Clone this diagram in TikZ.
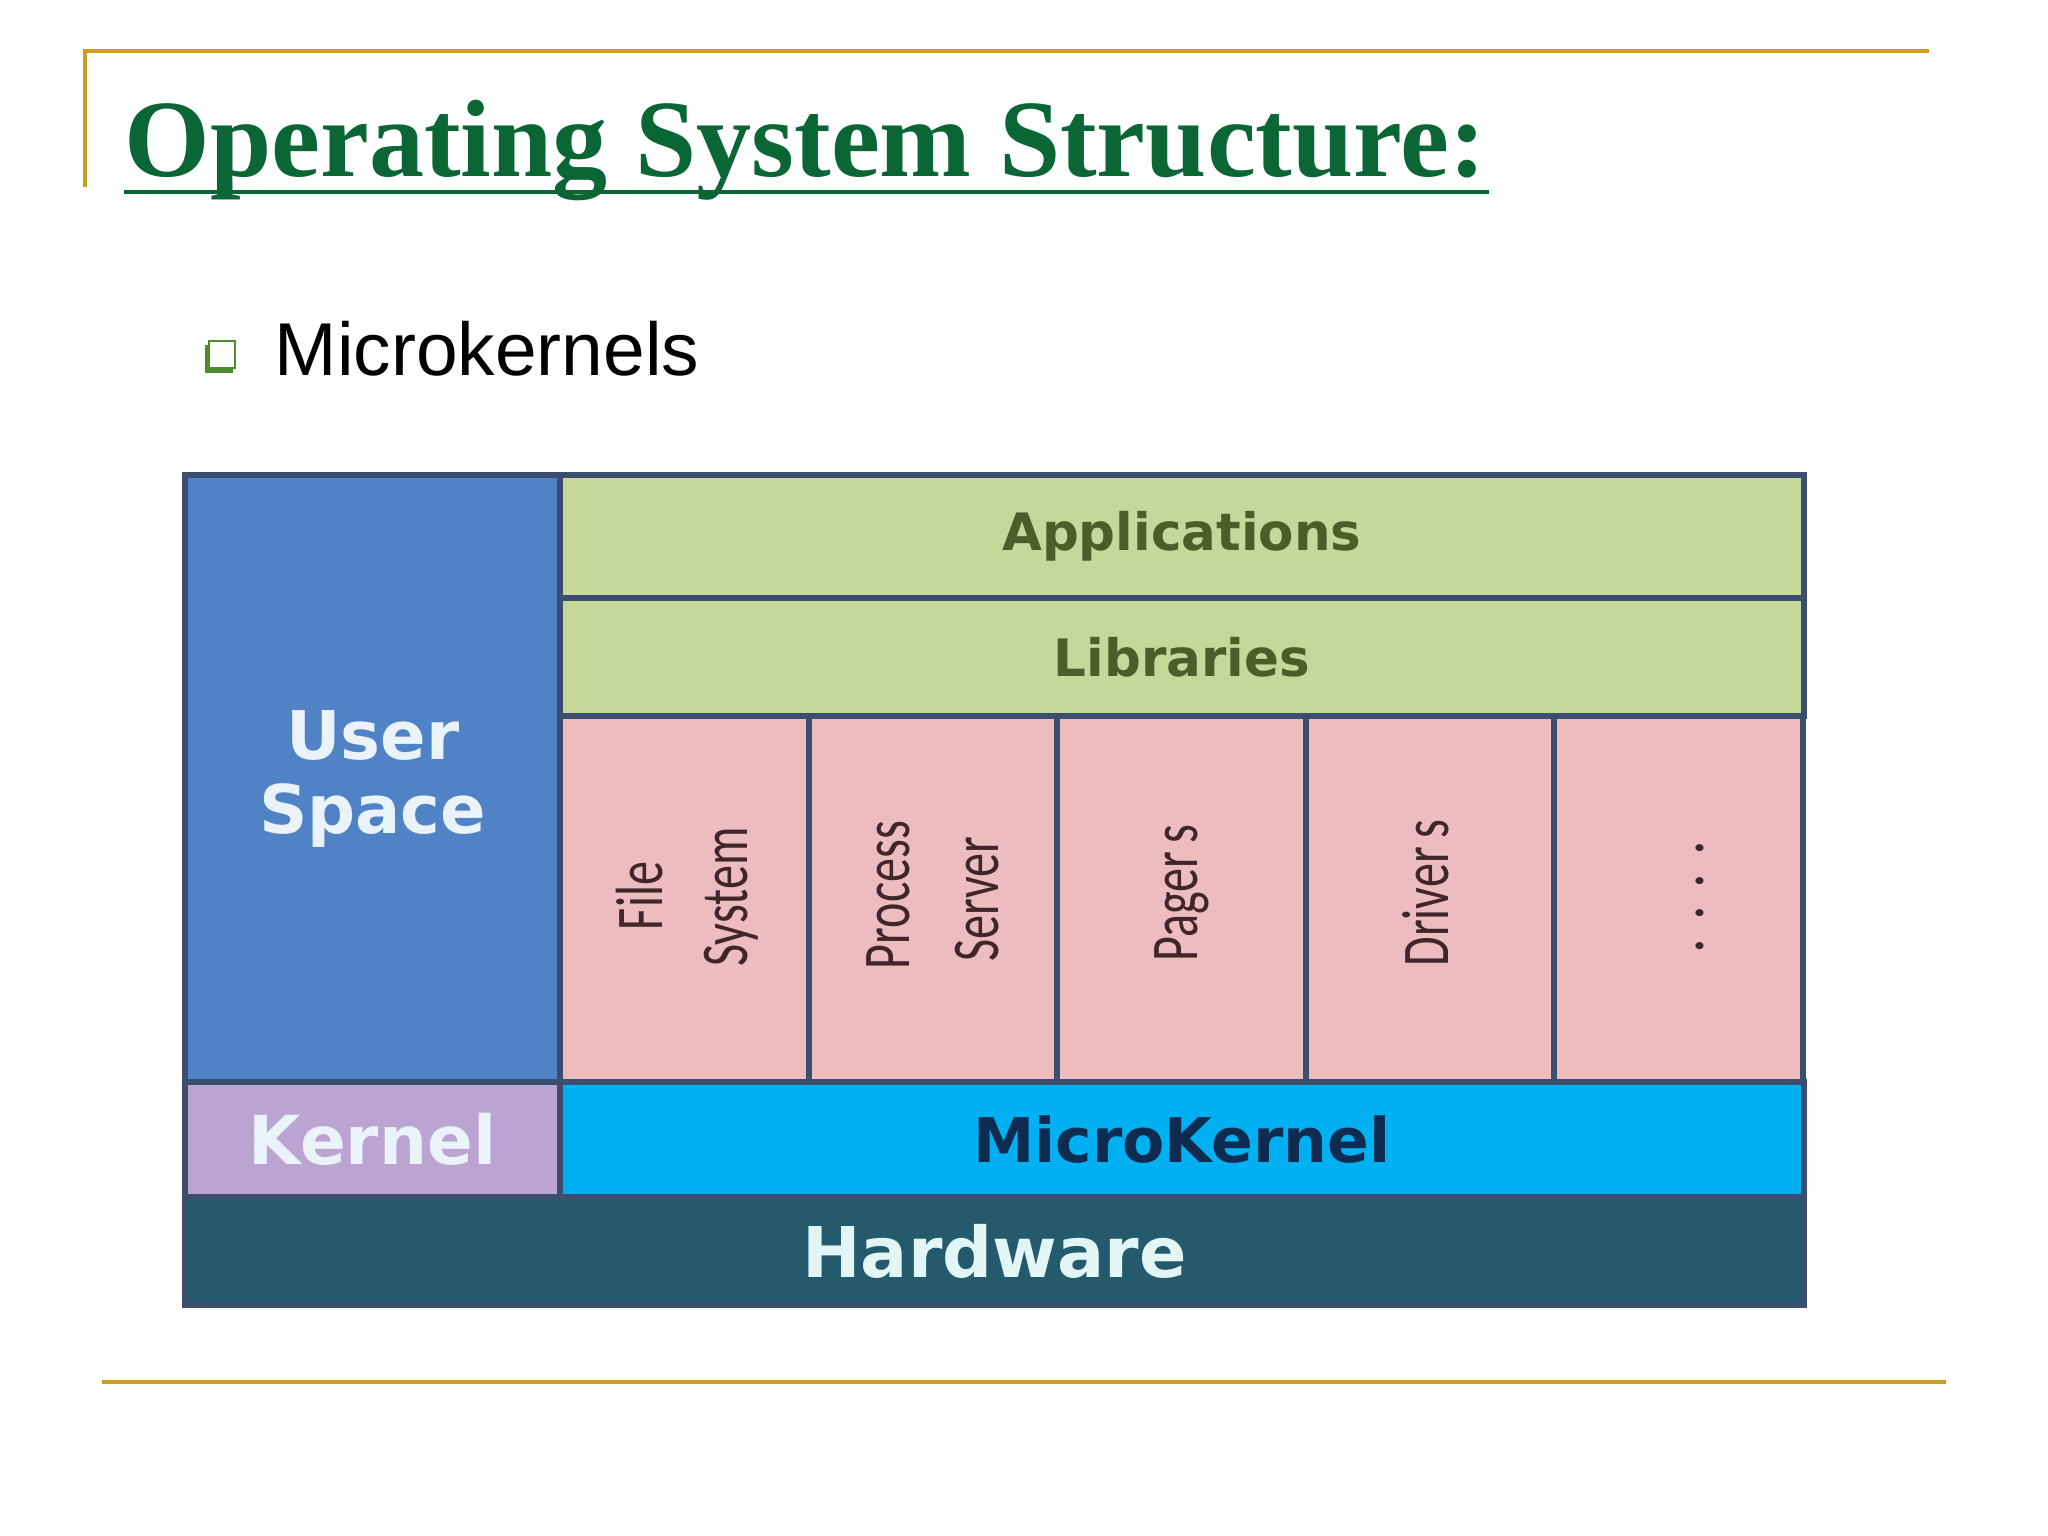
\documentclass[tikz,border=0pt]{standalone}
\usepackage{fontspec}
\setmainfont{Liberation Serif}
\newfontfamily\sansA{Liberation Sans}
\newfontfamily\lblfont{DejaVu Sans}
\newfontfamily\pinkfont{Carlito}
\definecolor{gold}{HTML}{CC9E22}
\definecolor{titlegreen}{HTML}{0A6634}
\definecolor{bulletgreen}{HTML}{4E8C2E}
\definecolor{frame}{HTML}{3B4E70}
\definecolor{userblue}{HTML}{4F83C6}
\definecolor{appgreen}{HTML}{C5D89A}
\definecolor{pink}{HTML}{EDBCBE}
\definecolor{kernelpurple}{HTML}{BBA4D1}
\definecolor{microblue}{HTML}{00B0F0}
\definecolor{hwteal}{HTML}{245A6C}
\definecolor{apptext}{HTML}{4A5E2A}
\definecolor{lighttext}{HTML}{EAF2FA}
\definecolor{microtext}{HTML}{0D2C50}
\definecolor{hwtext}{HTML}{E3F6F6}
\definecolor{pinktext}{HTML}{40262A}
\tikzset{
  goldline/.style={draw=gold, line width=1.2pt},
  cell/.style={draw=frame, line width=1.75pt, inner sep=0pt, outer sep=0pt, anchor=north west, align=center},
  pinkcell/.style={cell, fill=pink, minimum width=2.486cm, minimum height=3.66cm},
  pinklabel/.style={rotate=90, inner sep=0pt, text=pinktext, font=\pinkfont\fontsize{19}{22}\selectfont},
}
\begin{document}
\begin{tikzpicture}[x=0.01cm,y=-0.01cm]
\useasboundingbox[fill=white] (0,0) rectangle (2048,1536);
% gold rules
\coordinate (tl) at (85,51);
\coordinate (tr) at (1929,51);
\coordinate (tlb) at (85,187);
\coordinate (bl) at (102,1382);
\coordinate (br) at (1946,1382);
\draw[goldline] (tlb) -- (tl) -- (tr);
\draw[goldline] (bl) -- (br);
% title
\node[anchor=base west, inner sep=0pt, text=titlegreen, font=\bfseries\fontsize{31.3}{36}\selectfont] (title) at (124,176) {Operating System Structure:};
\coordinate (ul1) at (124,192);
\coordinate (ul2) at (1489,192);
\draw[titlegreen, line width=1.2pt] (ul1) -- (ul2);
% bullet
\fill[bulletgreen] (205,345) rectangle (233,373);
\draw[bulletgreen, fill=white, line width=0.7pt] (209,341) rectangle (235,368);
\node[anchor=base west, inner sep=0pt, font=\sansA\fontsize{21.3}{25}\selectfont] (micro) at (274,375) {Microkernels};
% diagram
\node[cell, fill=userblue, minimum width=3.75cm, minimum height=6.07cm, text=lighttext, font=\lblfont\bfseries\fontsize{19.1}{21}\selectfont] (user) at (185,475) {User\\Space};
\node[cell, fill=appgreen, minimum width=12.43cm, minimum height=1.23cm, text=apptext, font=\lblfont\bfseries\fontsize{14.65}{17}\selectfont] (apps) at (560,475) {Applications};
\node[cell, fill=appgreen, minimum width=12.43cm, minimum height=1.18cm, text=apptext, font=\lblfont\bfseries\fontsize{14.65}{17}\selectfont] (libs) at (560,598) {Libraries};
\node[pinkcell] (p1) at (560,716) {};
\node[pinkcell] (p2) at (808.6,716) {};
\node[pinkcell] (p3) at (1057.2,716) {};
\node[pinkcell] (p4) at (1305.8,716) {};
\node[pinkcell] (p5) at (1554.4,716) {};
\node[cell, fill=kernelpurple, minimum width=3.75cm, minimum height=1.15cm, text=lighttext, font=\lblfont\bfseries\fontsize{19.2}{22}\selectfont] (kernel) at (185,1082) {Kernel};
\node[cell, fill=microblue, minimum width=12.43cm, minimum height=1.15cm, text=microtext, font=\lblfont\bfseries\fontsize{17.5}{20}\selectfont] (mk) at (560,1082) {MicroKernel};
\node[cell, fill=hwteal, minimum width=16.18cm, minimum height=1.08cm, text=hwtext, font=\lblfont\bfseries\fontsize{19.9}{23}\selectfont] (hw) at (185,1197) {Hardware};
% rotated labels
\node[pinklabel] (fs1) at (640,896) {\scalebox{0.72}[1]{File}};
\node[pinklabel] (fs2) at (731,897) {\scalebox{0.72}[1]{System}};
\node[pinklabel] (ps1) at (888,895) {\scalebox{0.72}[1]{Process}};
\node[pinklabel] (ps2) at (977,899) {\scalebox{0.72}[1]{Server}};
\node[pinklabel] (pg) at (1182,893) {\scalebox{0.72}[1]{Pager\hspace{0.18em}s}};
\node[pinklabel] (dr) at (1426,893) {\scalebox{0.72}[1]{Driver\hspace{0.18em}s}};
\node[pinklabel] (dots) at (1700,897) {\scalebox{0.88}[1]{. . . .}};
\end{tikzpicture}
\end{document}
